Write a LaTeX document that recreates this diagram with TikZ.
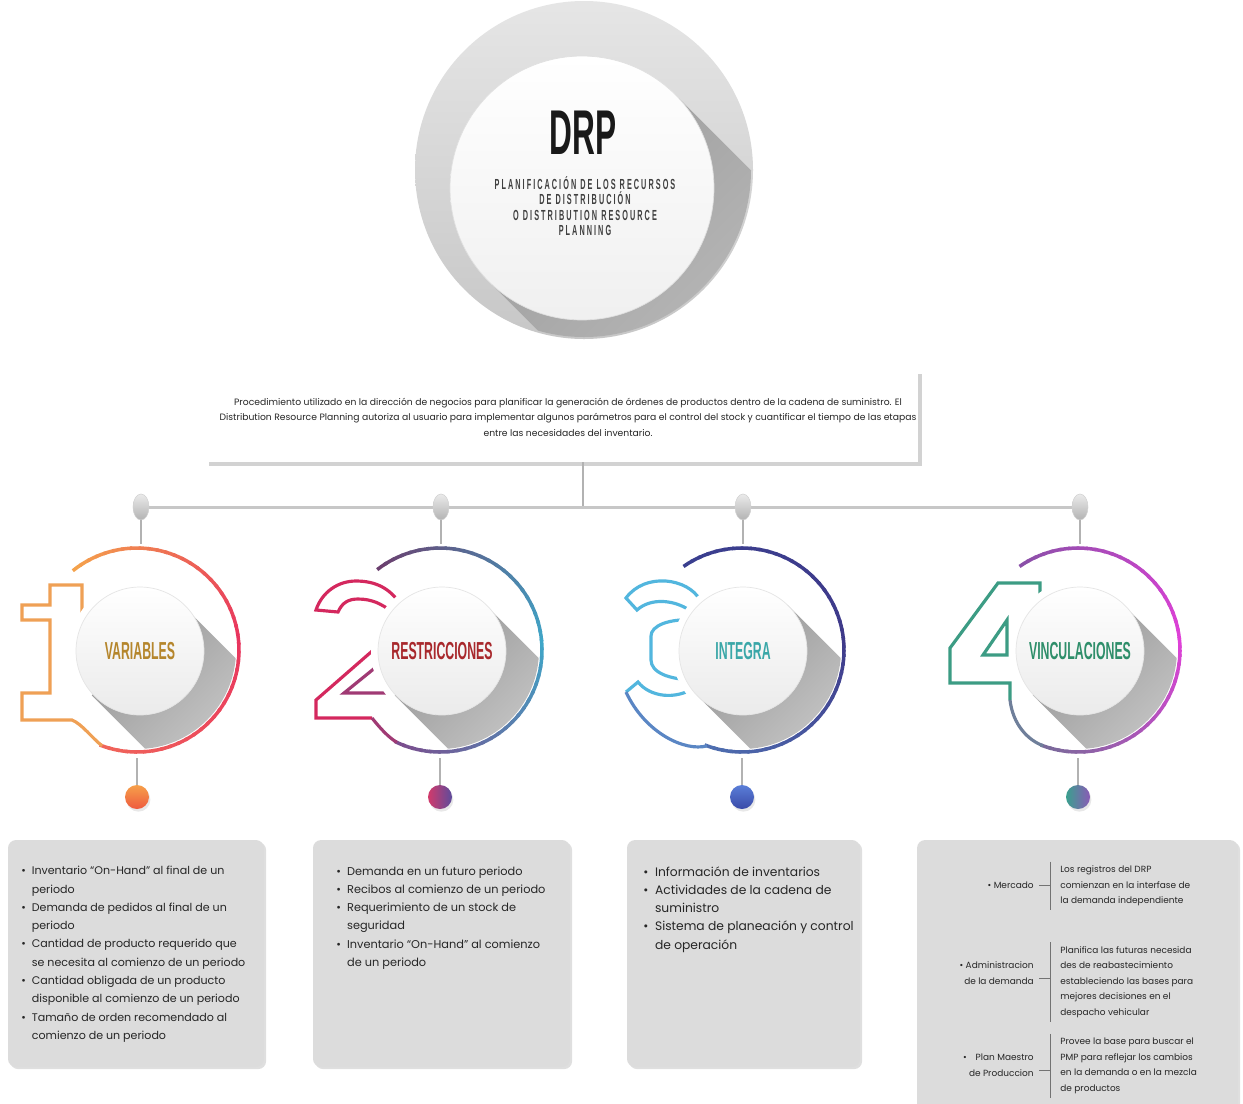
\documentclass[tikz,border=0pt]{standalone}
\usepackage{fontspec}
\setmainfont{Poppins}
\newfontfamily\condf[FakeStretch=0.5]{Liberation Sans}
\newfontfamily\condsp[FakeStretch=0.5,LetterSpace=14]{Liberation Sans}
\usetikzlibrary{shapes.geometric,shadows,calc}
\definecolor{txt}{HTML}{262626}
\definecolor{boxg}{HTML}{DCDCDC}
% ring colours
\definecolor{ra0}{HTML}{F4A24C}\definecolor{ra1}{HTML}{E8345E}\definecolor{ra2}{HTML}{F0645A}
\definecolor{rb0}{HTML}{6B3F6E}\definecolor{rb1}{HTML}{3FA6C8}\definecolor{rb2}{HTML}{7A4E8E}
\definecolor{rc0}{HTML}{3A3F8F}\definecolor{rc1}{HTML}{3F3A8A}\definecolor{rc2}{HTML}{4E6EB0}
\definecolor{rd0}{HTML}{8A50A8}\definecolor{rd1}{HTML}{E040D8}\definecolor{rd2}{HTML}{7A6A9A}
% numeral colours
\definecolor{na}{HTML}{EFA055}
\definecolor{nb}{HTML}{D4285E}\definecolor{nbb}{HTML}{A03A74}
\definecolor{nc}{HTML}{52B6DE}\definecolor{ncb}{HTML}{5A86C4}
\definecolor{nd}{HTML}{3C9C84}\definecolor{ndb}{HTML}{6F7F9A}
% labels
\definecolor{la}{HTML}{B5862C}\definecolor{lb}{HTML}{A8282C}
\definecolor{lc}{HTML}{3AA7A8}\definecolor{ld}{HTML}{2E8E6A}
% dots
\definecolor{da0}{HTML}{F6A04A}\definecolor{da1}{HTML}{EE5A3E}
\definecolor{db0}{HTML}{D23A6B}\definecolor{db1}{HTML}{5C4C9C}
\definecolor{dc0}{HTML}{5A7ED8}\definecolor{dc1}{HTML}{3A4AA8}
\definecolor{dd0}{HTML}{3AA08E}\definecolor{dd1}{HTML}{8A5AB6}
\newcommand\gradring[8]{%
  \foreach \k in {0,...,47}{%
    \pgfmathsetmacro\angA{#4+(#5-#4)*\k/48}%
    \pgfmathsetmacro\angB{#4+(#5-#4)*(\k+1.3)/48}%
    \ifnum\k<24
      \pgfmathtruncatemacro\gpct{100-\k*100/24}%
      \colorlet{segc}{#6!\gpct!#7}%
    \else
      \pgfmathtruncatemacro\gpct{100-(\k-24)*100/23}%
      \colorlet{segc}{#7!\gpct!#8}%
    \fi
    \draw[segc, ringw] (#1,#2) ++(\angA:#3) arc[start angle=\angA, end angle=\angB, radius=#3];
  }}
\newcommand\bitem{\makebox[0.95em][l]{\textbullet}}
\newcommand\bindent{\hspace*{0.95em}}
\newcommand\longshadow[3]{% centre x, centre y, ring radius
  \begin{scope}
    \clip (#1,#2) circle[radius=#3];
    \shade[top color=black!40, bottom color=black!12, shading angle=45]
      (#1,#2) ++(45:64) -- ++(130,-130) -- ++(-90.5,-90.5) -- ++(-130,130) -- cycle;
  \end{scope}}
\begin{document}
\begin{tikzpicture}[x=0.02cm,y=0.02cm,
  ringw/.style={line width=2pt},
  numl/.style={line width=1.8pt, line join=miter},
  tear/.style={ellipse, minimum width=0.32cm, minimum height=0.52cm, top color=black!8, bottom color=black!30, draw=black!18, line width=0.3pt, inner sep=0},
  hline/.style={line width=1.7pt, black!22},
  conn/.style={line width=1pt, black!30},
  thinl/.style={line width=0.8pt, black!30},
  wcirc/.style={circle, minimum size=2.56cm, top color=white, bottom color=black!8, draw=black!10, line width=0.4pt, inner sep=0},
  lbl/.style={font=\condf\bfseries\fontsize{14}{14}\selectfont},
  dotn/.style={circle, minimum size=0.48cm, inner sep=0, drop shadow={shadow xshift=0.8pt, shadow yshift=-1.5pt, opacity=0.18}},
  gbox/.style={rectangle, rounded corners=0.16cm, fill=boxg, inner sep=0, drop shadow={shadow xshift=1.2pt, shadow yshift=-1.2pt, opacity=0.25}},
  btxt/.style={align=left, anchor=north west, inner sep=0, text=txt},
  rtxt/.style={align=right, anchor=east, inner sep=0, text=txt, font=\fontsize{5.1}{8.8}\selectfont},
  ltxt/.style={align=left, anchor=west, inner sep=0, text=txt, font=\fontsize{5.1}{8.8}\selectfont},
  brk/.style={line width=0.5pt, black!55}
]
\useasboundingbox (0,0) rectangle (1243,-1103);
\fill[white] (0,0) rectangle (1243,-1103);

% ---------------- top circle
\shade[top color=black!10, bottom color=black!22] (584,-170) circle[radius=169];
\begin{scope}
  \clip (584,-170) circle[radius=167];
  \shade[top color=black!38, bottom color=black!20, shading angle=45]
    (582,-188) ++(45:132) -- ++(250,-250) -- ++(-186.7,-186.7) -- ++(-250,250) -- cycle;
\end{scope}
\node[circle, minimum size=5.28cm, top color=white, bottom color=black!6, draw=black!12, line width=0.4pt] (drpc) at (582,-188) {};
\node[font=\condf\bfseries\fontsize{36}{36}\selectfont, text=black!90] (drp) at (583,-133) {DRP};
\node[font=\condsp\bfseries\fontsize{8.3}{8.7}\selectfont, text=black!75, align=center] (sub) at (585,-206)
  {PLANIFICACIÓN DE LOS RECURSOS\\DE DISTRIBUCIÓN\\O DISTRIBUTION RESOURCE\\PLANNING};

% ---------------- description card
\node[rectangle, fill=white, minimum width=14.26cm, minimum height=1.84cm, inner sep=0,
      drop shadow={shadow xshift=2pt, shadow yshift=-2pt, opacity=0.35}] (desc) at (562,-416) {};
\node[font=\fontsize{5.25}{8.8}\selectfont, text=txt, align=center, inner sep=0] (dtxt) at (568,-417)
  {Procedimiento utilizado en la dirección de negocios para planificar la generación de órdenes de productos dentro de la cadena de suministro. El\\
   Distribution Resource Planning autoriza al usuario para implementar algunos parámetros para el control del stock y cuantificar el tiempo de las etapas\\
   entre las necesidades del inventario.};

% ---------------- connectors row
\coordinate (hub) at (583,-507);
\coordinate (h1) at (141,-507);
\coordinate (h2) at (441,-507);
\coordinate (h3) at (743,-507);
\coordinate (h4) at (1080,-507);
\draw[conn] (desc.south -| hub) -- (hub);
\draw[hline] (h1) -- (h4);
\coordinate (r1t) at (137,-544);
\coordinate (r2t) at (440,-544);
\coordinate (r3t) at (742,-544);
\coordinate (r4t) at (1078,-544);
\node[tear] (t1) at (h1) {};
\node[tear] (t2) at (h2) {};
\node[tear] (t3) at (h3) {};
\node[tear] (t4) at (h4) {};
\draw[thinl] (t1.south) -- (t1.south |- r1t);
\draw[thinl] (t2.south) -- (t2.south |- r2t);
\draw[thinl] (t3.south) -- (t3.south |- r3t);
\draw[thinl] (t4.south) -- (t4.south |- r4t);

% ---------------- ring 1
\gradring{137}{-650}{102}{129}{-110}{ra0}{ra1}{ra2}
\draw[numl, na] (102.1,-745.8) .. controls (92,-738) and (82,-724) .. (72,-720) -- (22,-720) -- (22,-693) -- (50,-693)
   -- (50,-620) -- (22,-620) -- (22,-605) -- (50,-605) -- (50,-585) -- (82,-585) -- (82,-620);
% ---------------- ring 2
\gradring{440}{-650}{102}{128}{-115}{rb0}{rb1}{rb2}
\draw[numl, nb] (400,-604) .. controls (390,-588) and (375,-581) .. (356,-581) .. controls (338,-581) and (322,-592) .. (316,-610)
   -- (338,-612) .. controls (342,-603) and (348,-599) .. (358,-599) .. controls (372,-599) and (382,-604) .. (392,-612);
\draw[numl, nb] (394,-632) -- (316,-700) -- (316,-718) -- (372,-718);
\draw[numl, nbb] (372,-718) .. controls (380,-728) and (388,-737) .. (396.9,-742.4);
\draw[numl, nbb] (397,-650) -- (344,-693) -- (392,-693);
% ---------------- ring 3
\gradring{742}{-650}{102}{125}{-110}{rc0}{rc1}{rc2}
\draw[numl, nc] (700,-600) .. controls (688,-578) and (645,-572) .. (626,-598) -- (637,-610)
   .. controls (650,-598) and (675,-598) .. (695,-614);
\draw[numl, nc] (697,-620) .. controls (668,-618) and (651,-626) .. (651,-636) -- (651,-660)
   .. controls (651,-672) and (668,-680) .. (697,-680);
\draw[numl, nc] (694,-688) .. controls (675,-700) and (650,-697) .. (638,-682) -- (626,-692);
\draw[numl, ncb] (626,-692) .. controls (645,-733) and (685,-752) .. (707.1,-745.8);
% ---------------- ring 4
\gradring{1078}{-650}{102}{125}{-110}{rd0}{rd1}{rd2}
\draw[numl, nd] (1040,-602) -- (1040,-583) -- (998,-583) -- (950,-648) -- (950,-683) -- (1010,-683) -- (1010,-700);
\draw[numl, ndb] (1010,-700) .. controls (1013,-725) and (1028,-740) .. (1043.1,-745.8);
\draw[numl, nd] (983,-655) -- (1007,-655) -- (1007,-620) -- cycle;

% ---------------- masks, shadows, white circles
\foreach \cx in {140, 442, 743, 1080}{
  \fill[white] (\cx,-651) circle[radius=71];
}
\longshadow{137}{-650}{99}
\longshadow{440}{-650}{99}
\longshadow{742}{-650}{99}
\longshadow{1078}{-650}{99}
\node[wcirc] (c1) at (140,-651) {};
\node[wcirc] (c2) at (442,-651) {};
\node[wcirc] (c3) at (743,-651) {};
\node[wcirc] (c4) at (1080,-651) {};
\node[lbl, text=la] (l1) at (c1) {VARIABLES};
\node[lbl, text=lb] (l2) at (c2) {RESTRICCIONES};
\node[lbl, text=lc] (l3) at (c3) {INTEGRA};
\node[lbl, text=ld] (l4) at (c4) {VINCULACIONES};

% ---------------- lower dots
\coordinate (r1b) at (137,-758);
\coordinate (r2b) at (440,-758);
\coordinate (r3b) at (742,-758);
\coordinate (r4b) at (1078,-758);
\node[dotn, top color=da0, bottom color=da1] (d1) at (137,-797) {};
\node[dotn, left color=db0, right color=db1] (d2) at (440,-797) {};
\node[dotn, top color=dc0, bottom color=dc1] (d3) at (742,-797) {};
\node[dotn, left color=dd0, right color=dd1] (d4) at (1078,-797) {};
\draw[thinl] (r1b) -- (d1.north);
\draw[thinl] (r2b) -- (d2.north);
\draw[thinl] (r3b) -- (d3.north);
\draw[thinl] (r4b) -- (d4.north);

% ---------------- bottom boxes
\node[gbox, minimum width=5.12cm, minimum height=4.54cm] (b1) at (136,-953.5) {};
\node[gbox, minimum width=5.14cm, minimum height=4.54cm] (b2) at (441.5,-953.5) {};
\node[gbox, minimum width=4.66cm, minimum height=4.54cm] (b3) at (743.5,-953.5) {};
\node[gbox, minimum width=6.42cm, minimum height=5.5cm] (b4) at (1077.5,-977.5) {};

\node[btxt, font=\fontsize{6.3}{10.4}\selectfont] (x1) at (21,-866)
  {\bitem Inventario “On-Hand” al final de un\\
   \bindent periodo\\
   \bitem Demanda de pedidos al final de un\\
   \bindent periodo\\
   \bitem Cantidad de producto requerido que\\
   \bindent se necesita al comienzo de un periodo\\
   \bitem Cantidad obligada de un producto\\
   \bindent disponible al comienzo de un periodo\\
   \bitem Tamaño de orden recomendado al\\
   \bindent comienzo de un periodo};
\node[btxt, font=\fontsize{6.45}{10.4}\selectfont] (x2) at (336,-866)
  {\bitem Demanda en un futuro periodo\\
   \bitem Recibos al comienzo de un periodo\\
   \bitem Requerimiento de un stock de\\
   \bindent seguridad\\
   \bitem Inventario “On-Hand” al comienzo\\
   \bindent de un periodo};
\node[btxt, font=\fontsize{7}{10.4}\selectfont] (x3) at (643,-866)
  {\bitem Información de inventarios\\
   \bitem Actividades de la cadena de\\
   \bindent suministro\\
   \bitem Sistema de planeación y control\\
   \bindent de operación};

% box 4
\node[rtxt] (m1) at (1034,-885) {\textbullet\ Mercado};
\node[ltxt] (n1) at (1060,-886) {Los registros del DRP\\comienzan en la interfase de\\la demanda independiente};
\node[rtxt] (m2) at (1034,-973) {\textbullet\ Administracion\\de la demanda};
\node[ltxt] (n2) at (1060,-982) {Planifica las futuras necesida\\des de reabastecimiento\\estableciendo las bases para\\mejores decisiones en el\\despacho vehicular};
\node[rtxt] (m3) at (1034,-1065) {\textbullet\quad Plan Maestro\\de Produccion};
\node[ltxt] (n3) at (1060,-1066) {Provee la base para buscar el\\PMP para reflejar los cambios\\en la demanda o en la mezcla\\de productos};
\draw[brk] ($(n1.north west)+(-10,4)$) -- ($(n1.south west)+(-10,-4)$);
\draw[brk] ($(n2.north west)+(-10,4)$) -- ($(n2.south west)+(-10,-4)$);
\draw[brk] ($(n3.north west)+(-10,4)$) -- ($(n3.south west)+(-10,-4)$);
\draw[brk] ($(m1.east)+(5,0)$) -- ($(m1.east -| n1.west)+(-10,0)$);
\draw[brk] ($(m2.south east)+(5,6)$) -- ($(m2.south east -| n2.west)+(-10,6)$);
\draw[brk] ($(m3.south east)+(5,6)$) -- ($(m3.south east -| n3.west)+(-10,6)$);
\end{tikzpicture}
\end{document}
